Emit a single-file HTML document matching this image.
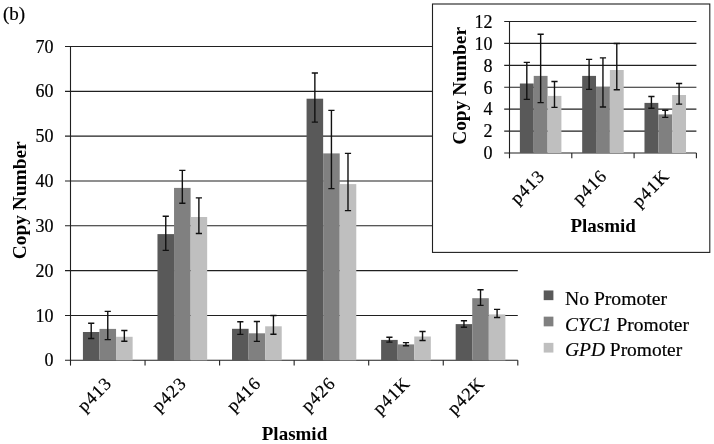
<!DOCTYPE html>
<html><head><meta charset="utf-8"><title>Plasmid copy number</title>
<style>
html,body{margin:0;padding:0;background:#fff;}
svg{display:block;font-family:"Liberation Serif", "Times New Roman", serif;fill:#000;}
text{stroke:#000;stroke-width:0.2px;}
text[font-weight=bold]{stroke:none;}
</style></head>
<body>
<svg width="714" height="444" viewBox="0 0 714 444">
<rect width="714" height="444" fill="#fff"/>
<line x1="65.00" y1="360.30" x2="517.80" y2="360.30" stroke="#202020" stroke-width="1.1"/>
<text x="53.5" y="366.40" font-size="18" text-anchor="end">0</text>
<line x1="65.00" y1="315.47" x2="517.80" y2="315.47" stroke="#202020" stroke-width="1.1"/>
<text x="53.5" y="321.57" font-size="18" text-anchor="end">10</text>
<line x1="65.00" y1="270.64" x2="517.80" y2="270.64" stroke="#202020" stroke-width="1.1"/>
<text x="53.5" y="276.74" font-size="18" text-anchor="end">20</text>
<line x1="65.00" y1="225.81" x2="517.80" y2="225.81" stroke="#202020" stroke-width="1.1"/>
<text x="53.5" y="231.91" font-size="18" text-anchor="end">30</text>
<line x1="65.00" y1="180.99" x2="517.80" y2="180.99" stroke="#202020" stroke-width="1.1"/>
<text x="53.5" y="187.09" font-size="18" text-anchor="end">40</text>
<line x1="65.00" y1="136.16" x2="517.80" y2="136.16" stroke="#202020" stroke-width="1.1"/>
<text x="53.5" y="142.26" font-size="18" text-anchor="end">50</text>
<line x1="65.00" y1="91.33" x2="517.80" y2="91.33" stroke="#202020" stroke-width="1.1"/>
<text x="53.5" y="97.43" font-size="18" text-anchor="end">60</text>
<line x1="65.00" y1="46.50" x2="517.80" y2="46.50" stroke="#202020" stroke-width="1.1"/>
<text x="53.5" y="52.60" font-size="18" text-anchor="end">70</text>
<line x1="70.50" y1="46.00" x2="70.50" y2="360.80" stroke="#202020" stroke-width="1.1"/>
<line x1="70.50" y1="360.30" x2="70.50" y2="365.60" stroke="#202020" stroke-width="1.1"/>
<line x1="145.05" y1="360.30" x2="145.05" y2="365.60" stroke="#202020" stroke-width="1.1"/>
<line x1="219.60" y1="360.30" x2="219.60" y2="365.60" stroke="#202020" stroke-width="1.1"/>
<line x1="294.15" y1="360.30" x2="294.15" y2="365.60" stroke="#202020" stroke-width="1.1"/>
<line x1="368.70" y1="360.30" x2="368.70" y2="365.60" stroke="#202020" stroke-width="1.1"/>
<line x1="443.25" y1="360.30" x2="443.25" y2="365.60" stroke="#202020" stroke-width="1.1"/>
<line x1="517.80" y1="360.30" x2="517.80" y2="365.60" stroke="#202020" stroke-width="1.1"/>
<rect x="82.92" y="332.00" width="16.57" height="28.30" fill="#595959"/>
<rect x="99.49" y="328.90" width="16.57" height="31.40" fill="#808080"/>
<rect x="116.06" y="336.80" width="16.57" height="23.50" fill="#bfbfbf"/>
<rect x="157.48" y="234.10" width="16.57" height="126.20" fill="#595959"/>
<rect x="174.04" y="187.90" width="16.57" height="172.40" fill="#808080"/>
<rect x="190.61" y="217.00" width="16.57" height="143.30" fill="#bfbfbf"/>
<rect x="232.02" y="328.80" width="16.57" height="31.50" fill="#595959"/>
<rect x="248.59" y="333.30" width="16.57" height="27.00" fill="#808080"/>
<rect x="265.16" y="326.30" width="16.57" height="34.00" fill="#bfbfbf"/>
<rect x="306.57" y="98.70" width="16.57" height="261.60" fill="#595959"/>
<rect x="323.14" y="153.40" width="16.57" height="206.90" fill="#808080"/>
<rect x="339.71" y="184.10" width="16.57" height="176.20" fill="#bfbfbf"/>
<rect x="381.12" y="339.90" width="16.57" height="20.40" fill="#595959"/>
<rect x="397.69" y="344.40" width="16.57" height="15.90" fill="#808080"/>
<rect x="414.26" y="336.50" width="16.57" height="23.80" fill="#bfbfbf"/>
<rect x="455.68" y="324.10" width="16.57" height="36.20" fill="#595959"/>
<rect x="472.24" y="298.20" width="16.57" height="62.10" fill="#808080"/>
<rect x="488.81" y="314.40" width="16.57" height="45.90" fill="#bfbfbf"/>
<path d="M88.11 323.20H94.31M88.11 338.50H94.31M91.21 323.20V338.50" stroke="#111" stroke-width="1.4" fill="none"/>
<path d="M104.67 311.40H110.87M104.67 339.60H110.87M107.77 311.40V339.60" stroke="#111" stroke-width="1.4" fill="none"/>
<path d="M121.24 330.50H127.44M121.24 341.30H127.44M124.34 330.50V341.30" stroke="#111" stroke-width="1.4" fill="none"/>
<path d="M162.66 216.30H168.86M162.66 250.40H168.86M165.76 216.30V250.40" stroke="#111" stroke-width="1.4" fill="none"/>
<path d="M179.23 170.40H185.43M179.23 203.30H185.43M182.33 170.40V203.30" stroke="#111" stroke-width="1.4" fill="none"/>
<path d="M195.79 197.90H201.99M195.79 233.50H201.99M198.89 197.90V233.50" stroke="#111" stroke-width="1.4" fill="none"/>
<path d="M237.21 321.80H243.41M237.21 334.40H243.41M240.31 321.80V334.40" stroke="#111" stroke-width="1.4" fill="none"/>
<path d="M253.78 321.50H259.98M253.78 341.40H259.98M256.88 321.50V341.40" stroke="#111" stroke-width="1.4" fill="none"/>
<path d="M270.34 315.50H276.54M270.34 334.20H276.54M273.44 315.50V334.20" stroke="#111" stroke-width="1.4" fill="none"/>
<path d="M311.76 73.00H317.96M311.76 122.10H317.96M314.86 73.00V122.10" stroke="#111" stroke-width="1.4" fill="none"/>
<path d="M328.32 110.40H334.53M328.32 188.60H334.53M331.43 110.40V188.60" stroke="#111" stroke-width="1.4" fill="none"/>
<path d="M344.89 153.40H351.09M344.89 210.60H351.09M347.99 153.40V210.60" stroke="#111" stroke-width="1.4" fill="none"/>
<path d="M386.31 337.20H392.51M386.31 342.10H392.51M389.41 337.20V342.10" stroke="#111" stroke-width="1.4" fill="none"/>
<path d="M402.88 342.60H409.08M402.88 345.70H409.08M405.98 342.60V345.70" stroke="#111" stroke-width="1.4" fill="none"/>
<path d="M419.44 331.50H425.64M419.44 340.50H425.64M422.54 331.50V340.50" stroke="#111" stroke-width="1.4" fill="none"/>
<path d="M460.86 320.70H467.06M460.86 327.20H467.06M463.96 320.70V327.20" stroke="#111" stroke-width="1.4" fill="none"/>
<path d="M477.43 289.80H483.63M477.43 305.40H483.63M480.53 289.80V305.40" stroke="#111" stroke-width="1.4" fill="none"/>
<path d="M493.99 309.40H500.19M493.99 317.50H500.19M497.09 309.40V317.50" stroke="#111" stroke-width="1.4" fill="none"/>
<text font-size="18" letter-spacing="1.05" text-anchor="end" transform="translate(112.98 384.20) rotate(-45)">p413</text>
<text font-size="18" letter-spacing="1.05" text-anchor="end" transform="translate(187.53 384.20) rotate(-45)">p423</text>
<text font-size="18" letter-spacing="1.05" text-anchor="end" transform="translate(262.07 384.20) rotate(-45)">p416</text>
<text font-size="18" letter-spacing="1.05" text-anchor="end" transform="translate(336.62 384.20) rotate(-45)">p426</text>
<text font-size="18" letter-spacing="1.05" text-anchor="end" transform="translate(411.17 384.20) rotate(-45)">p41K</text>
<text font-size="18" letter-spacing="1.05" text-anchor="end" transform="translate(485.72 384.20) rotate(-45)">p42K</text>
<text font-size="19" font-weight="bold" text-anchor="middle" textLength="117.8" lengthAdjust="spacingAndGlyphs" transform="translate(26.0 200.3) rotate(-90)">Copy Number</text>
<text x="294.5" y="439.7" font-size="19" font-weight="bold" text-anchor="middle">Plasmid</text>
<text x="3.0" y="20" font-size="19">(b)</text>
<rect x="543.7" y="290.45" width="9.7" height="9.7" fill="#595959"/>
<text x="565.0" y="305.20" font-size="19.2" textLength="102.0" lengthAdjust="spacingAndGlyphs">No Promoter</text>
<rect x="543.7" y="316.65" width="9.7" height="9.7" fill="#808080"/>
<text x="565.0" y="330.90" font-size="19.2" textLength="124.0" lengthAdjust="spacingAndGlyphs"><tspan font-style="italic">CYC1</tspan> Promoter</text>
<rect x="543.7" y="342.85" width="9.7" height="9.7" fill="#bfbfbf"/>
<text x="565.0" y="356.10" font-size="19.2" textLength="117.2" lengthAdjust="spacingAndGlyphs"><tspan font-style="italic">GPD</tspan> Promoter</text>
<rect x="432.5" y="4.0" width="277.3" height="248.4" fill="#fff" stroke="#202020" stroke-width="1.1"/>
<line x1="504.20" y1="153.00" x2="696.40" y2="153.00" stroke="#202020" stroke-width="1.1"/>
<text x="492.5" y="159.30" font-size="18" text-anchor="end">0</text>
<line x1="504.20" y1="131.08" x2="696.40" y2="131.08" stroke="#202020" stroke-width="1.1"/>
<text x="492.5" y="137.38" font-size="18" text-anchor="end">2</text>
<line x1="504.20" y1="109.17" x2="696.40" y2="109.17" stroke="#202020" stroke-width="1.1"/>
<text x="492.5" y="115.47" font-size="18" text-anchor="end">4</text>
<line x1="504.20" y1="87.25" x2="696.40" y2="87.25" stroke="#202020" stroke-width="1.1"/>
<text x="492.5" y="93.55" font-size="18" text-anchor="end">6</text>
<line x1="504.20" y1="65.33" x2="696.40" y2="65.33" stroke="#202020" stroke-width="1.1"/>
<text x="492.5" y="71.63" font-size="18" text-anchor="end">8</text>
<line x1="504.20" y1="43.42" x2="696.40" y2="43.42" stroke="#202020" stroke-width="1.1"/>
<text x="492.5" y="49.72" font-size="18" text-anchor="end">10</text>
<line x1="504.20" y1="21.50" x2="696.40" y2="21.50" stroke="#202020" stroke-width="1.1"/>
<text x="492.5" y="27.80" font-size="18" text-anchor="end">12</text>
<line x1="509.50" y1="21.00" x2="509.50" y2="153.50" stroke="#202020" stroke-width="1.1"/>
<line x1="509.50" y1="153.00" x2="509.50" y2="158.30" stroke="#202020" stroke-width="1.1"/>
<line x1="571.80" y1="153.00" x2="571.80" y2="158.30" stroke="#202020" stroke-width="1.1"/>
<line x1="634.10" y1="153.00" x2="634.10" y2="158.30" stroke="#202020" stroke-width="1.1"/>
<line x1="696.40" y1="153.00" x2="696.40" y2="158.30" stroke="#202020" stroke-width="1.1"/>
<rect x="519.88" y="83.50" width="13.84" height="69.50" fill="#595959"/>
<rect x="533.73" y="75.90" width="13.84" height="77.10" fill="#808080"/>
<rect x="547.57" y="95.90" width="13.84" height="57.10" fill="#bfbfbf"/>
<rect x="582.18" y="75.90" width="13.84" height="77.10" fill="#595959"/>
<rect x="596.03" y="87.00" width="13.84" height="66.00" fill="#808080"/>
<rect x="609.87" y="70.00" width="13.84" height="83.00" fill="#bfbfbf"/>
<rect x="644.48" y="102.90" width="13.84" height="50.10" fill="#595959"/>
<rect x="658.33" y="114.40" width="13.84" height="38.60" fill="#808080"/>
<rect x="672.17" y="95.00" width="13.84" height="58.00" fill="#bfbfbf"/>
<path d="M523.71 62.40H529.91M523.71 99.40H529.91M526.81 62.40V99.40" stroke="#111" stroke-width="1.4" fill="none"/>
<path d="M537.55 34.30H543.75M537.55 102.60H543.75M540.65 34.30V102.60" stroke="#111" stroke-width="1.4" fill="none"/>
<path d="M551.39 81.50H557.59M551.39 107.40H557.59M554.49 81.50V107.40" stroke="#111" stroke-width="1.4" fill="none"/>
<path d="M586.01 59.40H592.21M586.01 89.40H592.21M589.11 59.40V89.40" stroke="#111" stroke-width="1.4" fill="none"/>
<path d="M599.85 57.90H606.05M599.85 107.00H606.05M602.95 57.90V107.00" stroke="#111" stroke-width="1.4" fill="none"/>
<path d="M613.69 43.50H619.89M613.69 89.70H619.89M616.79 43.50V89.70" stroke="#111" stroke-width="1.4" fill="none"/>
<path d="M648.31 96.50H654.51M648.31 108.20H654.51M651.41 96.50V108.20" stroke="#111" stroke-width="1.4" fill="none"/>
<path d="M662.15 110.30H668.35M662.15 117.40H668.35M665.25 110.30V117.40" stroke="#111" stroke-width="1.4" fill="none"/>
<path d="M675.99 83.50H682.19M675.99 104.10H682.19M679.09 83.50V104.10" stroke="#111" stroke-width="1.4" fill="none"/>
<text font-size="18" letter-spacing="1.05" text-anchor="end" transform="translate(545.85 176.90) rotate(-45)">p413</text>
<text font-size="18" letter-spacing="1.05" text-anchor="end" transform="translate(608.15 176.90) rotate(-45)">p416</text>
<text font-size="18" letter-spacing="1.05" text-anchor="end" transform="translate(670.45 176.90) rotate(-45)">p41K</text>
<text font-size="19" font-weight="bold" text-anchor="middle" textLength="117.8" lengthAdjust="spacingAndGlyphs" transform="translate(465.5 85.9) rotate(-90)">Copy Number</text>
<text x="603.2" y="232" font-size="19" font-weight="bold" text-anchor="middle">Plasmid</text>
</svg>
</body></html>
